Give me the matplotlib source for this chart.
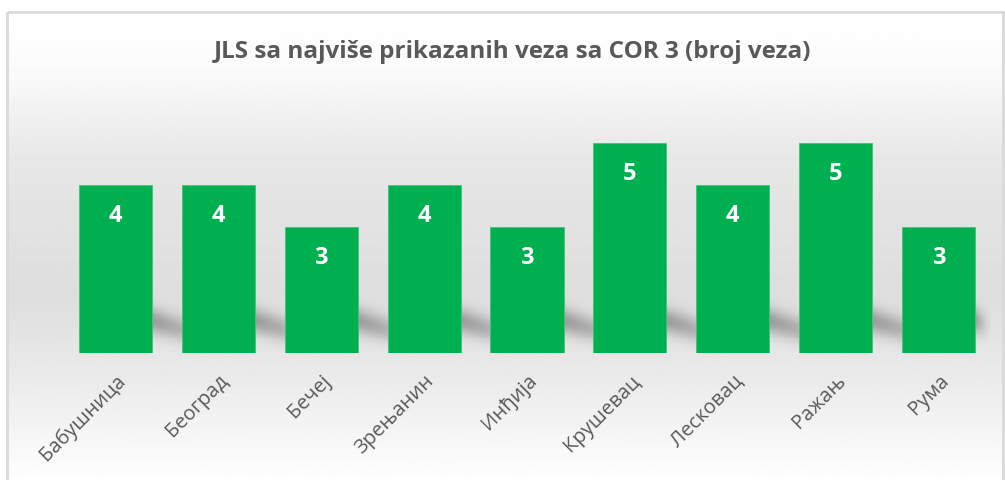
import numpy as np
import matplotlib.pyplot as plt
from matplotlib.patches import Rectangle
from matplotlib.transforms import ScaledTranslation

# data
towns = ["Бабушница", "Београд", "Бечеј", "Зрењанин", "Инђија",
         "Крушевац", "Лесковац", "Ражањ", "Рума"]
links = [4, 4, 3, 4, 3, 5, 4, 5, 3]
title = "JLS sa najviše prikazanih veza sa COR 3 (broj veza)"

W, H = 1005, 480
GREEN = "#00B050"
TEXT = "#595959"
BAR_W = 0.71

plt.rcParams['font.family'] = ['Open Sans', 'DejaVu Sans']

fig = plt.figure(figsize=(W / 100, H / 100), dpi=100)

# background: vertical gray gradient inside a thin frame
bg = fig.add_axes([0, 0, 1, 1])
bg.set_xlim(0, W)
bg.set_ylim(H, 0)
bg.axis('off')
ys = np.array([12, 70, 150, 290, 370, 470, 480])
vals = np.array([1.0, 0.975, 0.905, 0.87, 0.915, 0.99, 1.0])
col = np.interp(np.arange(H), ys, vals)
img = np.repeat(col[:, None], 2, axis=1)
bg.imshow(img, cmap='gray', vmin=0, vmax=1, extent=(7, 1003, H, 12),
          aspect='auto', interpolation='bilinear')
bg.add_patch(Rectangle((7, 12), 996, 480, fill=False, edgecolor="#d9d9d9", lw=2))

ax = fig.add_axes([64 / W, (H - 353) / H, (990 - 64) / W, 252 / H])
ax.patch.set_alpha(0)
x = np.arange(len(towns))
ax.set_xlim(-0.5, len(towns) - 0.5)
ax.set_ylim(0, 6)

# floor shadow: a soft band behind the bars, slanting down across each gap
n = len(towns)
sx = np.linspace(-0.5, n - 0.5, 900)
sy = np.linspace(0.0, 1.8, 180)
k = np.floor(sx - BAR_W / 2).astype(int)
r = k + BAR_W / 2
u = np.clip((sx - r) / (1 - BAR_W), 0, 1)
centre = 0.76 - 0.2 * u
strength = 0.31 * (1 - 0.3 * u)
strength[sx < -BAR_W / 2] = 0
tail = (n - 1) + BAR_W / 2
past = sx > tail
strength[past] = 0.31 * np.clip(1 - (sx[past] - tail) / 0.17, 0, 1) ** 1.5
a = strength[None, :] * np.exp(-((sy[:, None] - centre[None, :]) / 0.3) ** 2)
shadow = np.zeros((len(sy), len(sx), 4))
shadow[..., 3] = a
ax.imshow(shadow, extent=(sx[0], sx[-1], sy[0], sy[-1]), origin='lower',
          aspect='auto', interpolation='bilinear', zorder=1)

ax.bar(x, links, width=BAR_W, color=GREEN, edgecolor="#3fc47a", linewidth=0.6, zorder=2)
for xi, v in zip(x, links):
    ax.text(xi, v - 0.74, str(v), ha='center', va='center', color='white',
            fontsize=17, fontweight='bold', zorder=3)

ax.set_xticks(x)
ax.set_xticklabels(towns, rotation=45, ha='right', rotation_mode='anchor',
                   color=TEXT, fontsize=14.5)
shift = ScaledTranslation(-4 / 100, 0, fig.dpi_scale_trans)
for lab in ax.get_xticklabels():
    lab.set_transform(lab.get_transform() + shift)
ax.tick_params(axis='x', length=0, pad=13)
ax.set_yticks([])
for s in ax.spines.values():
    s.set_visible(False)

fig.text(512 / W, 1 - 52 / H, title, ha='center', va='center', color=TEXT,
         fontsize=17.5, fontweight='bold')

fig.savefig("out.png", dpi=100)
